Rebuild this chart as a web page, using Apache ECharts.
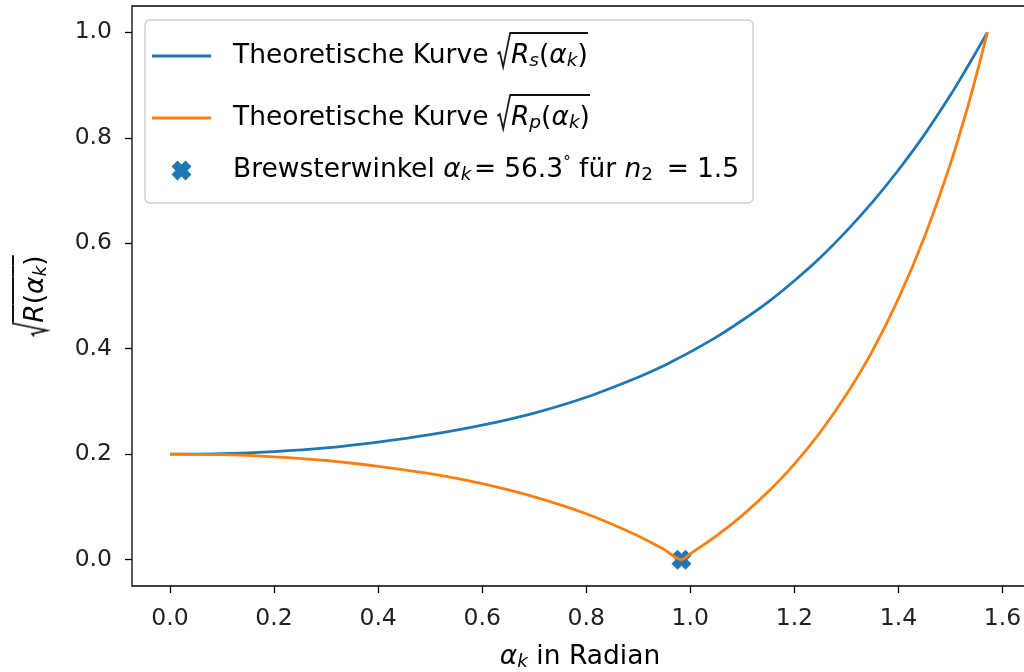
<!DOCTYPE html>
<html>
<head>
<meta charset="utf-8">
<script src="https://cdn.jsdelivr.net/npm/echarts@6/dist/echarts.min.js"></script>
<style>
  html, body { margin: 0; padding: 0; background: #fff; }
  #chart { width: 1024px; height: 672px; }
</style>
</head>
<body>
<div id="chart"></div>
<script>
// Einfallswinkel in Radian
const alpha = [0.0, 0.1, 0.2, 0.3, 0.4, 0.5, 0.6, 0.7, 0.8, 0.9, 0.95, 0.983, 1.0, 1.05, 1.1, 1.15, 1.2, 1.25, 1.3, 1.35, 1.4, 1.45, 1.5, 1.53, 1.55, 1.571]
// sqrt(R_s)
const rs = [0.200, 0.201, 0.205, 0.212, 0.223, 0.237, 0.255, 0.278, 0.308, 0.346, 0.368, 0.385, 0.394, 0.422, 0.454, 0.489, 0.529, 0.573, 0.623, 0.678, 0.739, 0.806, 0.881, 0.930, 0.964, 1.000]
// sqrt(R_p)
const rp = [0.200, 0.199, 0.195, 0.188, 0.177, 0.163, 0.144, 0.119, 0.087, 0.045, 0.019, 0.000, 0.011, 0.045, 0.084, 0.129, 0.181, 0.242, 0.313, 0.396, 0.495, 0.612, 0.751, 0.848, 0.920, 1.000]
// Brewsterwinkel
const brewsterX = [0.983]
const brewsterY = [0.0]

const xTicks = [0.0, 0.2, 0.4, 0.6, 0.8, 1.0, 1.2, 1.4, 1.6]
const yTicks = [0.0, 0.2, 0.4, 0.6, 0.8, 1.0]

const FONT = 'DejaVu Sans'
const BLUE = '#1f77b4'
const ORANGE = '#ff7f0e'
const FS = 26.5   // legend + axis names
const FSS = 18.5  // subscripts
const FT = 23.5   // tick labels

// Wurzelstrich oben (als Hintergrundbild eines Textstuecks)
function overline(h) {
  const c = document.createElement('canvas')
  c.width = 8
  c.height = h
  const g = c.getContext('2d')
  g.fillStyle = '#111'
  g.fillRect(0, 0, 8, 2)
  return c
}
// das Wurzelzeichen selbst
function radical(h) {
  const c = document.createElement('canvas')
  c.width = 14
  c.height = h
  const g = c.getContext('2d')
  g.strokeStyle = '#111'
  g.lineWidth = 1.7
  g.beginPath()
  g.moveTo(0.5, 22)
  g.lineTo(2.8, 20)
  g.lineTo(6.2, 35)
  g.lineTo(13.2, 1)
  g.stroke()
  g.fillStyle = '#111'
  g.fillRect(12.6, 0, 1.4, 2)
  return c
}
const ov = overline(48)
const rad = radical(48)

const sqrtRich = {
  sq: { width: 14, height: 48, fontSize: FS, backgroundColor: { image: rad } },
  oR: { fontFamily: FONT, fontStyle: 'italic', fontSize: FS, color: '#000', height: 48, backgroundColor: { image: ov } },
  oN: { fontFamily: FONT, fontSize: FS, color: '#000', height: 48, backgroundColor: { image: ov } },
  oS: { fontFamily: FONT, fontStyle: 'italic', fontSize: FSS, color: '#000', height: 38, padding: [10, 0, 0, 0], backgroundColor: { image: ov } },
}

const legendRich = Object.assign({
  g: { width: 17 },
  t: { fontFamily: FONT, fontSize: FS, color: '#000', lineHeight: 48 },
  b: { fontFamily: FONT, fontSize: FS, color: '#000', lineHeight: 38 },
  i: { fontFamily: FONT, fontStyle: 'italic', fontSize: FS, color: '#000', lineHeight: 38 },
  s: { fontFamily: FONT, fontStyle: 'italic', fontSize: FSS, color: '#000', padding: [10, 0, 0, 0] },
  n: { fontFamily: FONT, fontSize: FSS, color: '#000', padding: [10, 0, 0, 0] },
  sup: { fontFamily: FONT, fontSize: 15, color: '#000', padding: [0, 0, 14, 0] },
}, sqrtRich)

const legendText = {
  Rs: '{g| }{t|Theoretische Kurve }{sq| }{oR|R}{oS|s}{oN|(}{oR|α}{oS|k}{oN|)}',
  Rp: '{g| }{t|Theoretische Kurve }{sq| }{oR|R}{oS|p}{oN|(}{oR|α}{oS|k}{oN|)}',
  Brewster: '{g| }{b|Brewsterwinkel }{i|α}{s|k}{b|\u200A=\u2009\u200A56.3}{sup|°}{b| für }{i|n}{n|2}{b| \u2009=\u2009\u200A1.5}',
}

const lineIcon = 'path://M0,0 L59,0 L59,2.8 L0,2.8 Z'

const chart = echarts.init(document.getElementById('chart'), null, { renderer: 'canvas' })

chart.setOption({
  animation: false,
  backgroundColor: '#fff',
  grid: {
    left: 132,
    top: 6,
    right: -4,
    bottom: 86,
    show: true,
    borderColor: '#000',
    borderWidth: 1.3,
    backgroundColor: 'transparent',
    outerBoundsMode: 'none',
  },
  legend: {
    data: [
      { name: 'Rs', icon: lineIcon },
      { name: 'Rp', icon: lineIcon },
      { name: 'Brewster' },
    ],
    orient: 'vertical',
    left: 145,
    top: 20,
    padding: [12, 14, 18, 7],
    itemGap: 14,
    itemWidth: 59,
    itemHeight: 20,
    selectedMode: false,
    backgroundColor: '#fff',
    borderColor: '#ccc',
    borderWidth: 1.3,
    borderRadius: 5,
    formatter: name => legendText[name],
    textStyle: { rich: legendRich },
  },
  xAxis: {
    type: 'value',
    min: -0.073,
    max: 1.649,
    name: '{i|α}{s|k}{t| in Radian}',
    nameLocation: 'middle',
    nameGap: 56,
    nameTextStyle: {
      rich: {
        i: { fontFamily: FONT, fontStyle: 'italic', fontSize: FS, color: '#000', lineHeight: 30 },
        s: { fontFamily: FONT, fontStyle: 'italic', fontSize: FSS, color: '#000', padding: [10, 0, 0, 0] },
        t: { fontFamily: FONT, fontSize: FS, color: '#000', lineHeight: 30 },
      },
    },
    splitLine: { show: false },
    axisLine: { show: false, onZero: false },
    axisTick: { show: true, length: 7, customValues: xTicks, lineStyle: { color: '#000', width: 1.3 } },
    axisLabel: {
      customValues: xTicks,
      margin: 21,
      fontFamily: FONT,
      fontSize: FT,
      color: '#222',
      formatter: v => v.toFixed(1),
    },
  },
  yAxis: {
    type: 'value',
    min: -0.05,
    max: 1.05,
    name: '{sq| }{oR|R}{oN|(}{oR|α}{oS|k}{oN|)}',
    nameLocation: 'middle',
    nameRotate: 90,
    nameGap: 72,
    nameTextStyle: { rich: sqrtRich },
    splitLine: { show: false },
    axisLine: { show: false, onZero: false },
    axisTick: { show: true, length: 7, customValues: yTicks, lineStyle: { color: '#000', width: 1.3 } },
    axisLabel: {
      customValues: yTicks,
      margin: 20,
      fontFamily: FONT,
      fontSize: FT,
      color: '#222',
      formatter: v => v.toFixed(1),
    },
  },
  series: [
    {
      name: 'Brewster',
      type: 'scatter',
      data: brewsterX.map((x, i) => [x, brewsterY[i]]),
      symbol: 'path://M0,3 L3,0 L5,2 L7,0 L10,3 L8,5 L10,7 L7,10 L5,8 L3,10 L0,7 L2,5 Z',
      symbolSize: 20,
      symbolKeepAspect: true,
      itemStyle: { color: BLUE, opacity: 1 },
      z: 1,
    },
    {
      name: 'Rs',
      type: 'line',
      data: alpha.map((x, i) => [x, rs[i]]),
      symbol: 'none',
      smooth: 0.3,
      lineStyle: { color: BLUE, width: 2.8 },
      itemStyle: { color: BLUE },
      z: 2,
    },
    {
      name: 'Rp',
      type: 'line',
      data: alpha.map((x, i) => [x, rp[i]]),
      symbol: 'none',
      smooth: 0.3,
      lineStyle: { color: ORANGE, width: 2.8 },
      itemStyle: { color: ORANGE },
      z: 2,
    },
  ],
})
</script>
</body>
</html>
